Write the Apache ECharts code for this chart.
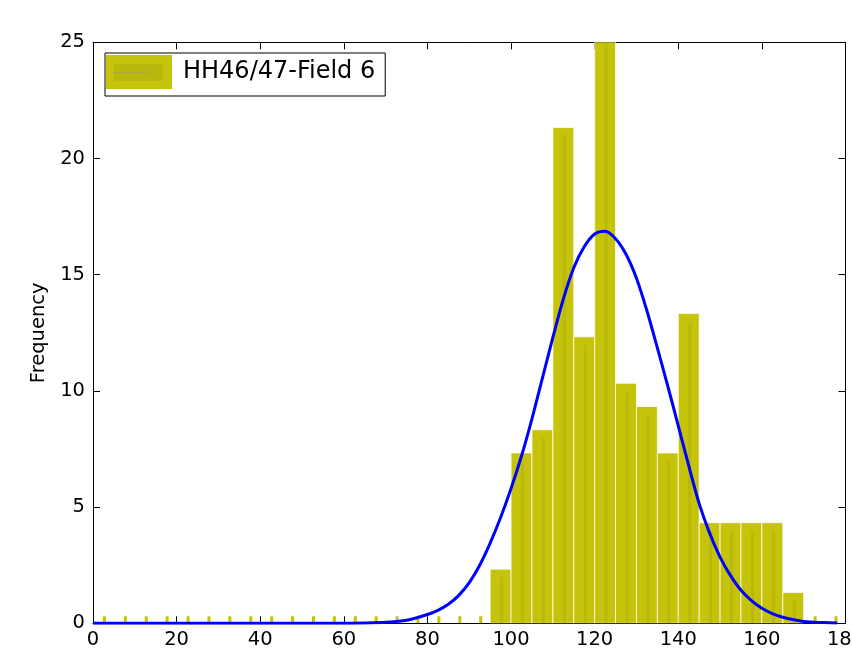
<!DOCTYPE html>
<html>
<head>
<meta charset="utf-8">
<script src="https://cdn.jsdelivr.net/npm/echarts@6/dist/echarts.min.js"></script>
<style>
html,body{margin:0;padding:0;background:#fff;overflow:hidden;}
#chart{width:852px;height:655px;}
</style>
</head>
<body>
<div id="chart"></div>
<script>
// Histogram bins (left edge, right edge) and frequencies
const binLeft  = [0,5,10,15,20,25,30,35,40,45,50,55,60,65,70,75,80,85,90,95,100,105,110,115,120,125,130,135,140,145,150,155,160,165,170,175];
const binRight = [5,10,15,20,25,30,35,40,45,50,55,60,65,70,75,80,85,90,95,100,105,110,115,120,125,130,135,140,145,150,155,160,165,170,175,180];
const frequency = [0,0,0,0,0,0,0,0,0,0,0,0,0,0,0,0,0,0,0,2.33,7.33,8.33,21.33,12.33,25.33,10.33,9.33,7.33,13.33,4.33,4.33,4.33,4.33,1.33,0,0];

// Fitted curve
const curveX = [0,50,60,65,70,75,80,82.5,85,87.5,90,92.5,95,97.5,100,102.5,105,107.5,110,112.5,115,117.5,120,122.5,125,127.5,130,132.5,135,137.5,140,142.5,145,147.5,150,152.5,155,157.5,160,162.5,165,170,175,178];
const curveY = [0,0,0.003,0.01,0.04,0.13,0.38,0.56,0.82,1.2,1.75,2.5,3.45,4.55,5.8,7.2,8.8,10.55,12.3,13.95,15.3,16.2,16.75,16.87,16.55,15.88,14.85,13.45,11.85,10.2,8.5,6.78,5.15,3.88,2.85,2.05,1.42,0.98,0.65,0.42,0.26,0.08,0.03,0.01];

const xTicks = {min:0, max:180, interval:20};
const yTicks = {min:0, max:25, interval:5};
const legendName = 'HH46/47-Field 6';

const BAR = '#c5c40b';
const STRIP = '#b9b80c';
const FONT = 'DejaVu Sans';

const barData = binLeft.map((l, i) => [l, binRight[i], frequency[i]]);
const curveData = curveX.map((x, i) => [x, curveY[i]]);

function renderBar(params, api) {
  const x0 = api.value(0), x1 = api.value(1), v = api.value(2);
  const base = api.coord([x0, 0]);
  const right = api.coord([x1, 0]);
  const xc = (base[0] + right[0]) / 2 + 1;
  const children = [];
  if (v > 0) {
    const top = api.coord([x0, v]);
    children.push({
      type: 'rect',
      shape: {x: base[0], y: top[1], width: right[0] - base[0], height: base[1] - top[1]},
      style: {fill: BAR, stroke: 'rgba(255,255,255,0.75)', lineWidth: 1}
    });
    children.push({
      type: 'rect',
      shape: {x: xc - 1.5, y: top[1] + 8, width: 3, height: Math.max(0, base[1] - top[1] - 8)},
      style: {fill: STRIP}
    });
  } else {
    children.push({
      type: 'rect',
      shape: {x: xc - 1.5, y: base[1] - 7, width: 3, height: 7},
      style: {fill: BAR}
    });
  }
  return {type: 'group', children: children};
}

const axisLineStyle = {show: true, onZero: false, lineStyle: {color: '#000', width: 1}};
const tickStyle = {show: true, inside: true, length: 7, lineStyle: {color: '#000', width: 1}};
const labelStyle = {color: '#000', fontSize: 19.5, fontFamily: FONT};

const chart = echarts.init(document.getElementById('chart'), null, {renderer: 'canvas'});
chart.setOption({
  backgroundColor: '#fff',
  animation: false,
  grid: {left: 93, right: 6.5, top: 42.3, bottom: 31.7, containLabel: false, outerBoundsMode: 'none'},
  legend: {
    data: [{name: legendName, icon: 'rect'}],
    left: 105, top: 53,
    itemWidth: 66, itemHeight: 34,
    padding: [2, 10, 7, 1],
    borderColor: '#000', borderWidth: 1,
    backgroundColor: '#fff',
    textStyle: {color: '#000', fontSize: 24, fontFamily: FONT, padding: [0, 0, 0, 6]},
    selectedMode: false
  },
  xAxis: [
    Object.assign({type: 'value', position: 'bottom', axisLine: axisLineStyle, axisTick: tickStyle,
      axisLabel: Object.assign({margin: 7, showMaxLabel: true, hideOverlap: false}, labelStyle), splitLine: {show: false}}, xTicks),
    Object.assign({type: 'value', position: 'top', axisLine: axisLineStyle, axisTick: tickStyle,
      axisLabel: {show: false}, splitLine: {show: false}}, xTicks)
  ],
  yAxis: [
    Object.assign({type: 'value', position: 'left', axisLine: axisLineStyle, axisTick: tickStyle,
      axisLabel: Object.assign({margin: 8}, labelStyle), splitLine: {show: false},
      name: 'Frequency', nameLocation: 'middle', nameGap: 40,
      nameTextStyle: {color: '#000', fontSize: 19.5, fontFamily: FONT}}, yTicks),
    Object.assign({type: 'value', position: 'right', axisLine: axisLineStyle, axisTick: tickStyle,
      axisLabel: {show: false}, splitLine: {show: false}}, yTicks)
  ],
  series: [
    {
      name: legendName,
      type: 'custom',
      xAxisIndex: 0, yAxisIndex: 0,
      clip: true,
      itemStyle: {color: BAR},
      encode: {x: [0, 1], y: 2},
      data: barData,
      renderItem: renderBar,
      z: 2
    },
    {
      name: 'fit',
      type: 'line',
      xAxisIndex: 0, yAxisIndex: 0,
      data: curveData,
      smooth: 0.3,
      showSymbol: false,
      lineStyle: {color: '#0000ff', width: 3},
      z: 3
    }
  ],
  graphic: [
    {type: 'rect', left: 114, top: 64, shape: {width: 49, height: 17}, style: {fill: STRIP}, z: 100},
    {type: 'line', shape: {x1: 113, y1: 72.5, x2: 150, y2: 72.5}, style: {stroke: '#a9a84a', lineWidth: 1}, z: 101}
  ]
});
</script>
</body>
</html>
